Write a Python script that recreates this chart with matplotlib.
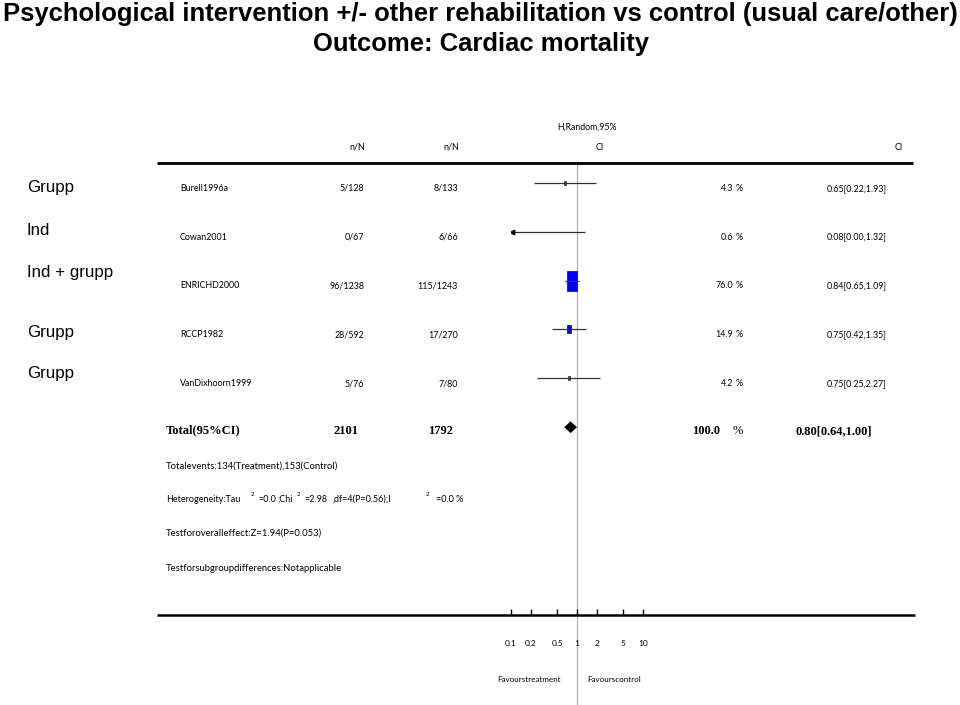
import matplotlib
matplotlib.use('Agg')
import matplotlib.pyplot as plt
from matplotlib.lines import Line2D
from matplotlib.path import Path
from matplotlib import font_manager
import numpy as np

# ---------------- data ----------------
title_lines = ["Psychological intervention +/- other rehabilitation vs control (usual care/other)",
               "Outcome: Cardiac mortality"]
groups = ["Grupp", "Ind", "Ind + grupp", "Grupp", "Grupp"]
studies = ["Burell1996a", "Cowan2001", "ENRICHD2000", "RCCP1982", "VanDixhoorn1999"]
treat_nN = ["5/128", "0/67", "96/1238", "28/592", "5/76"]
ctrl_nN = ["8/133", "6/66", "115/1243", "17/270", "7/80"]
weights = [4.3, 0.6, 76.0, 14.9, 4.2]
rr = [0.65, 0.08, 0.84, 0.75, 0.75]
rr_lo = [0.22, 0.00, 0.65, 0.42, 0.25]
rr_hi = [1.93, 1.32, 1.09, 1.35, 2.27]
total_label = "Total(95%CI)"
total_treat = "2101"
total_ctrl = "1792"
total_weight = 100.0
total_rr, total_lo, total_hi = 0.80, 0.64, 1.00
tick_vals = [0.1, 0.2, 0.5, 1, 2, 5, 10]
tick_labels = ["0.1", "0.2", "0.5", "1", "2", "5", "10"]
summary_events = "Totalevents:134(Treatment),153(Control)"
het_parts = ["Heterogeneity:Tau", "=0.0", ";Chi", "=2.98", ",df=4(P=0.56);I", "=0.0 %"]
het_sup = ["2", "", "2", "", "2", ""]
overall_test = "Testforoveralleffect:Z=1.94(P=0.053)"
subgroup_test = "Testforsubgroupdifferences:Notapplicable"
favour_left = "Favourstreatment"
favour_right = "Favourscontrol"

# ---------------- layout helpers ----------------
W, H = 960, 705
fig = plt.figure(figsize=(W / 100, H / 100), dpi=100)
fig.patch.set_facecolor('white')

def fx(x):
    return x / W

def fy(y):
    return 1 - y / H

def has_font(name):
    try:
        font_manager.findfont(font_manager.FontProperties(family=name), fallback_to_default=False)
        return True
    except Exception:
        return False

title_family = ['Liberation Sans Narrow', 'Liberation Sans'] if has_font('Liberation Sans Narrow') else ['Liberation Sans']
SMALL = ['Lato', 'DejaVu Sans']
SERIF = ['Liberation Serif', 'DejaVu Serif']
ARIAL = ['Liberation Sans', 'DejaVu Sans']

ROW0, ROWH = 182.7, 48.9

def row_px(i):
    return ROW0 + ROWH * i

def t(x, y, s, size=6.4, family=SMALL, ha='left', va='baseline', **kw):
    return fig.text(fx(x), fy(y), s, fontsize=size, family=family, ha=ha, va=va, **kw)

fig.canvas.draw()
renderer = fig.canvas.get_renderer()

def width_px(txt):
    return txt.get_window_extent(renderer=renderer).width

# ---------------- title ----------------
t1 = t(480, 21, title_lines[0], size=19, family=title_family, ha='center', weight='bold')
t2 = t(481, 51, title_lines[1], size=19, family=title_family, ha='center', weight='bold')
for tt, target in ((t1, 956), (t2, 336)):
    tt.set_fontsize(tt.get_fontsize() * target / width_px(tt))

# ---------------- header ----------------
t(587, 127, "H,Random,95%", size=6.3, ha='center', va='center')
t(357, 147, "n/N", size=6.4, ha='center', va='center')
t(451, 147, "n/N", size=6.4, ha='center', va='center')
t(600, 147, "CI", size=6.4, ha='center', va='center')
t(899, 147, "CI", size=6.4, ha='center', va='center')

fig.add_artist(Line2D([fx(157), fx(913)], [fy(163), fy(163)], color='black', lw=2.0,
                      transform=fig.transFigure, solid_capstyle='butt'))
fig.add_artist(Line2D([fx(157), fx(915)], [fy(615), fy(615)], color='black', lw=1.8,
                      transform=fig.transFigure, solid_capstyle='butt'))

# ---------------- left group labels ----------------
group_baselines = [192, 235, 277, 337, 378]
for g, yb in zip(groups, group_baselines):
    t(27, yb, g, size=12.2, family=ARIAL)

# ---------------- study rows ----------------
for i, s in enumerate(studies):
    yb = row_px(i) + 8
    t(180, yb, s)
    t(364, yb, treat_nN[i], ha='right')
    t(458, yb, ctrl_nN[i], ha='right')
    t(733, yb, f"{weights[i]:.1f}", ha='right')
    t(743, yb, "%", ha='right')
    t(827, yb, f"{rr[i]:.2f}[{rr_lo[i]:.2f},{rr_hi[i]:.2f}]")

# total row
ti = len(studies)
yb = row_px(ti) + 6.5
t(166, yb, total_label, size=9, family=SERIF, weight='bold')
t(359, yb, total_treat, size=9, family=SERIF, weight='bold', ha='right')
t(453, yb, total_ctrl, size=9, family=SERIF, weight='bold', ha='right')
t(720, yb, f"{total_weight:.1f}", size=9, family=SERIF, weight='bold', ha='right')
t(743, yb, "%", size=9, family=SERIF, ha='right')
t(796, yb, f"{total_rr:.2f}[{total_lo:.2f},{total_hi:.2f}]", size=9, family=SERIF, weight='bold')

# summary texts
t(166, 469, summary_events, size=6.8)
# heterogeneity line: pieces placed one after another with the gaps of the reference
gap_before_sup = [10, 0, 4, 0, 34, 0]
gap_after = [4, 2, 4, 5, 7, 0]
x = 166
for part, sup, gb, ga in zip(het_parts, het_sup, gap_before_sup, gap_after):
    tp = t(x, 502, part, size=6.5)
    x += width_px(tp)
    if sup:
        x += gb
        ts = t(x, 496, sup, size=4.3)
        x += width_px(ts)
    x += ga
t(166, 536, overall_test, size=6.8)
t(166, 571, subgroup_test, size=6.8)

t(497, 682, favour_left, size=5.8)
t(587, 682, favour_right, size=5.8)

# ---------------- forest axes ----------------
ax = fig.add_axes([fx(511), 0, fx(643) - fx(511), fy(163)])
ax.set_xscale('log')
ax.set_xlim(0.1, 10)
ax.set_ylim((H - ROW0) / ROWH, (163 - ROW0) / ROWH)
ax.axis('off')
ax.axvline(1, color='#a8a8a8', lw=0.8, zorder=1)

rect = Path([(-0.55, -1), (0.55, -1), (0.55, 1), (-0.55, 1), (-0.55, -1)],
            [Path.MOVETO, Path.LINETO, Path.LINETO, Path.LINETO, Path.CLOSEPOLY])
xmin = ax.get_xlim()[0]
for i in range(len(studies)):
    ms = 2.29 * np.sqrt(weights[i]) * 0.72
    if rr[i] >= xmin:
        big = weights[i] >= 10
        ax.plot([rr[i]], [i], marker=rect, ms=ms,
                mfc='#0000ff' if big else '#303060', mec='#000090' if big else '#303040',
                mew=0.5, ls='none', zorder=2)
    x0 = max(rr_lo[i], xmin)
    ax.plot([x0, rr_hi[i]], [i, i], color='#333333', lw=0.9, zorder=3,
            solid_capstyle='butt')
    if rr_lo[i] < xmin:
        ax.plot([xmin * 1.02], [i], marker='<', ms=3.2, color='black', ls='none', zorder=3)

dh = 0.12
ax.fill([total_lo, total_rr, total_hi, total_rr], [ti, ti - dh, ti, ti + dh],
        color='black', zorder=3, lw=0)

# ---------------- scale axis ----------------
ax2 = fig.add_axes([fx(511), fy(615), fx(643) - fx(511), 0.001])
ax2.set_xscale('log')
ax2.set_xlim(0.1, 10)
ax2.patch.set_alpha(0)
for sp in ax2.spines.values():
    sp.set_visible(False)
ax2.set_yticks([])
ax2.set_xticks(tick_vals)
ax2.set_xticklabels(tick_labels)
ax2.xaxis.set_minor_locator(matplotlib.ticker.NullLocator())
ax2.tick_params(axis='x', direction='in', length=4.3, width=1.0, color='black',
                pad=18, labelsize=6.0)
for lab in ax2.get_xticklabels():
    lab.set_family(SMALL)

fig.savefig('out.png', dpi=100, facecolor='white')
